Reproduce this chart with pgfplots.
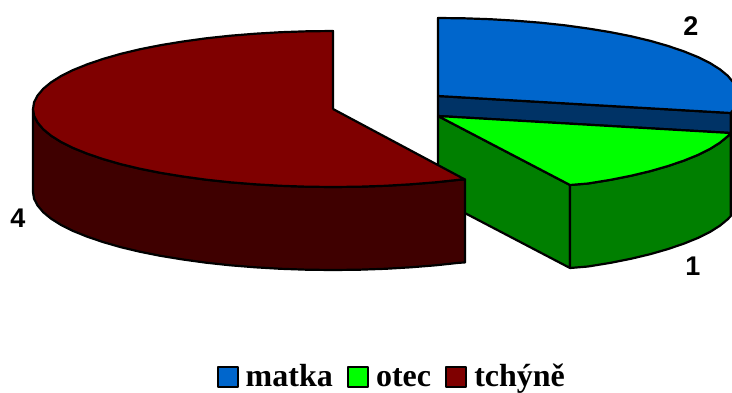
\documentclass[border=0pt]{standalone}
\usepackage{fontspec}
\setmainfont{Liberation Sans}
\newfontfamily\legendfont{Liberation Serif}
\usepackage{pgfplots}
\pgfplotsset{compat=1.18}
\definecolor{blueTop}{HTML}{0066CC}
\definecolor{blueWall}{HTML}{003366}
\definecolor{greenTop}{HTML}{00FF00}
\definecolor{greenWall}{HTML}{007F00}
\definecolor{redTop}{HTML}{7F0000}
\definecolor{redWall}{HTML}{3F0000}
\begin{document}
\begin{tikzpicture}
\useasboundingbox (0,0) rectangle (732pt,392pt);
\begin{axis}[
  at={(0,0)}, anchor=south west,
  scale only axis, width=732pt, height=392pt,
  xmin=0, xmax=732, ymin=0, ymax=392, y dir=reverse,
  hide axis,
  every axis plot/.append style={draw=black, line width=2.2pt, line join=round},
  legend columns=3,
  legend cell align=left,
  legend image code/.code={\draw[#1, line width=2.2pt] (1pt,0pt) rectangle (21pt,20pt);},
  legend style={
    at={(0.2955,0.0)}, anchor=south west,
    draw=none, fill=none, inner sep=0pt,
    font=\fontsize{32}{36}\selectfont\legendfont\bfseries,
    nodes={anchor=base, inner xsep=0pt, inner ysep=0pt, text height=22pt, text depth=5pt},
    /tikz/every odd column/.style={column sep=7pt},
    /tikz/every even column/.style={column sep=14pt},
  },
]
% blue slice (2): radial wall first, then its top
\addplot[fill=blueWall, forget plot] coordinates {
  (438,96) (730.8,113) (730.8,133) (438,116) (438,96)};
\addplot[fill=blueTop] coordinates {
  (438,96) (438,18) (464.1,18.3) (490.1,19.2) (515.6,20.7) (540.6,22.7)
  (564.8,25.3) (588,28.5) (610.1,32.1) (630.8,36.2) (650.1,40.8)
  (667.8,45.9) (683.7,51.3) (697.8,57) (709.9,63) (719.9,69.3)
  (727.8,75.8) (733.4,82.5) (736.9,89.2) (738,96) (736.9,102.8)
  (733.4,109.5) (730.8,113) (438,96)};
\addlegendentry{matka}
% green slice (1)
\addplot[fill=greenWall, forget plot] coordinates {
  (438,116) (570,185) (570,268) (438,199) (438,116)};
\addplot[fill=greenWall, forget plot] coordinates {
  (570,185) (588,183.5) (610.1,179.9) (630.8,175.8) (650.1,171.2)
  (667.8,166.1) (683.7,160.7) (697.8,155) (709.9,149) (719.9,142.7)
  (727.8,136.2) (730.8,133) (730.8,216) (727.8,219.2) (719.9,225.7)
  (709.9,232) (697.8,238) (683.7,243.7) (667.8,249.1) (650.1,254.2)
  (630.8,258.8) (610.1,262.9) (588,266.5) (570,268) (570,185)};
\addplot[fill=greenTop] coordinates {
  (438,116) (570,185) (588,183.5) (610.1,179.9) (630.8,175.8) (650.1,171.2)
  (667.8,166.1) (683.7,160.7) (697.8,155) (709.9,149) (719.9,142.7)
  (727.8,136.2) (730.8,133) (438,116)};
\addlegendentry{otec}
% red slice (4)
\addplot[fill=redWall, forget plot] coordinates {
  (33,109) (34.1,115.8) (37.6,122.5) (43.2,129.2) (51.1,135.7) (61.1,142)
  (73.2,148) (87.3,153.7) (103.2,159.1) (120.9,164.2) (140.2,168.8)
  (160.9,172.9) (183,176.5) (206.2,179.7) (230.4,182.3) (255.4,184.3)
  (280.9,185.8) (306.9,186.7) (333,187) (359.1,186.7) (385.1,185.8)
  (410.6,184.3) (435.6,182.3) (459.8,179.7) (465,179.5)
  (465,262.5) (459.8,262.7) (435.6,265.3) (410.6,267.3) (385.1,268.8)
  (359.1,269.7) (333,270) (306.9,269.7) (280.9,268.8) (255.4,267.3)
  (230.4,265.3) (206.2,262.7) (183,259.5) (160.9,255.9) (140.2,251.8)
  (120.9,247.2) (103.2,242.1) (87.3,236.7) (73.2,231) (61.1,225)
  (51.1,218.7) (43.2,212.2) (37.6,205.5) (34.1,198.8) (33,192) (33,109)};
\addplot[fill=redTop] coordinates {
  (333,109) (333,31) (306.9,31.3) (280.9,32.2) (255.4,33.7) (230.4,35.7)
  (206.2,38.3) (183,41.5) (160.9,45.1) (140.2,49.2) (120.9,53.8)
  (103.2,58.9) (87.3,64.3) (73.2,70) (61.1,76) (51.1,82.3) (43.2,88.8)
  (37.6,95.5) (34.1,102.2) (33,109) (34.1,115.8) (37.6,122.5) (43.2,129.2)
  (51.1,135.7) (61.1,142) (73.2,148) (87.3,153.7) (103.2,159.1)
  (120.9,164.2) (140.2,168.8) (160.9,172.9) (183,176.5) (206.2,179.7)
  (230.4,182.3) (255.4,184.3) (280.9,185.8) (306.9,186.7) (333,187)
  (359.1,186.7) (385.1,185.8) (410.6,184.3) (435.6,182.3) (459.8,179.7)
  (465,179.5) (333,109)};
\addlegendentry{tchýně}
% value labels
\node[font=\fontsize{27}{30}\selectfont\bfseries] at (axis cs:691,26) {2};
\node[font=\fontsize{27}{30}\selectfont\bfseries] at (axis cs:693,266) {1};
\node[font=\fontsize{27}{30}\selectfont\bfseries] at (axis cs:18,218) {4};
\end{axis}
\end{tikzpicture}
\end{document}
